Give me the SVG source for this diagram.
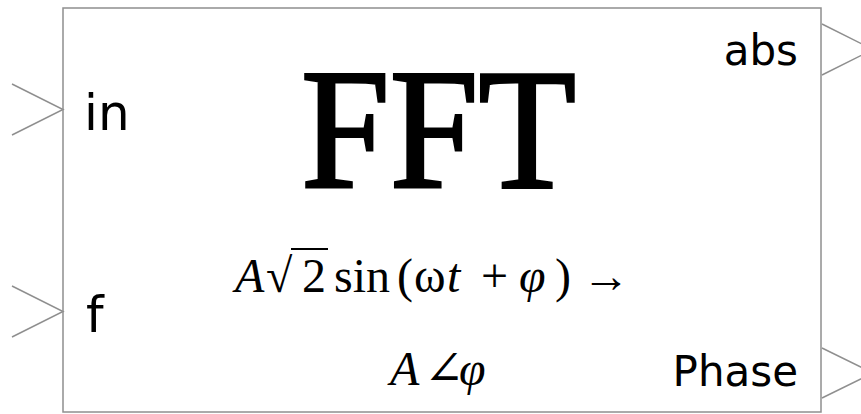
<svg xmlns="http://www.w3.org/2000/svg" width="861" height="414" viewBox="0 0 861 414">
<style>
.box{fill:#fff;stroke:#8f8f8f;stroke-width:1.5}
.port{fill:none;stroke:#8f8f8f;stroke-width:1.5}
.lbl{font-family:"DejaVu Sans","Liberation Sans",sans-serif;fill:#000}
.title{font-family:"Liberation Serif","DejaVu Serif",serif;fill:#000;stroke:#000;stroke-width:3;stroke-linejoin:miter}
.m{font-family:"Liberation Serif","DejaVu Serif",serif;font-size:48px;fill:#000}
.i{font-style:italic}
</style>
<rect width="861" height="414" fill="#fff"/>
<g id="fft-block">
<rect class="box" x="63" y="8" width="758" height="404"/>
<text class="title" x="301" y="187" font-size="172" textLength="275" lengthAdjust="spacingAndGlyphs">FFT</text>
<text class="lbl" x="84" y="130" font-size="50">in</text>
<text class="lbl" x="86" y="332" font-size="50">f</text>
<text class="lbl" x="798" y="65" font-size="42" text-anchor="end">abs</text>
<text class="lbl" x="798" y="386" font-size="42" text-anchor="end">Phase</text>
<g id="formula">
<text class="m" y="292"><tspan class="i" x="235">A</tspan><tspan x="266">√</tspan><tspan x="302">2</tspan><tspan x="334">sin</tspan><tspan x="397">(</tspan><tspan x="414">ω</tspan><tspan class="i" x="447">t</tspan><tspan x="481">+</tspan><tspan class="i" x="519">φ</tspan><tspan x="555">)</tspan><tspan x="582">→</tspan></text>
<line x1="291" y1="249" x2="328" y2="249" stroke="#000" stroke-width="2"/>
<text class="m" y="385"><tspan class="i" x="390">A</tspan><tspan x="424">∠</tspan><tspan class="i" x="459">φ</tspan></text>
</g>
</g>
<g id="connectors">
<polyline class="port" points="12,84 63,109.5 12,135"/>
<polyline class="port" points="12,286 63,311.5 12,337"/>
<polyline class="port" points="822,24 873,49.5 822,75"/>
<polyline class="port" points="822,348 873,373 822,398"/>
</g>
</svg>
